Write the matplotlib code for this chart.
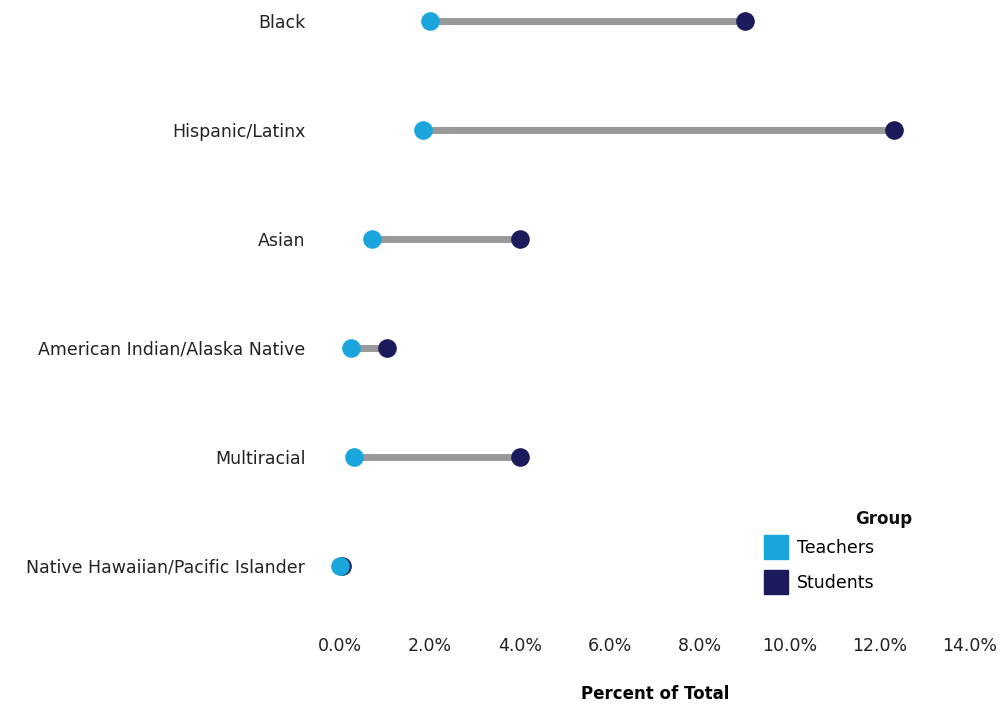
import matplotlib
matplotlib.use('Agg')
import matplotlib.pyplot as plt
from matplotlib.lines import Line2D
from matplotlib.ticker import FuncFormatter

plt.rcParams['font.family'] = ['DejaVu Sans']

# data (percent of total)
groups = ['Black', 'Hispanic/Latinx', 'Asian', 'American Indian/Alaska Native',
          'Multiracial', 'Native Hawaiian/Pacific Islander']
teachers = [2.0, 1.85, 0.7, 0.25, 0.3, 0.0]
students = [9.0, 12.3, 4.0, 1.05, 4.0, 0.05]
xticks = [0, 2, 4, 6, 8, 10, 12, 14]

teal = '#1aa5dc'
navy = '#1b1a5a'
grey = '#999999'

fig = plt.figure(figsize=(10.01, 7.05), dpi=100)
ax = fig.add_axes([340 / 1001, 1 - 620 / 705, 630 / 1001, 620 / 705])

ypos = list(range(len(groups)))
ax.hlines(ypos, teachers, students, color=grey, linewidth=5, zorder=1)
ax.scatter(students, ypos, s=180, color=navy, zorder=2, linewidths=0)
ax.scatter(teachers, ypos, s=180, color=teal, zorder=3, linewidths=0)

ax.set_xlim(0, 14)
ax.set_ylim((620 - 21) / 109, -21 / 109)
ax.set_xticks(xticks)
ax.xaxis.set_major_formatter(FuncFormatter(lambda v, p: f'{v:.1f}%'))
ax.set_yticks(ypos)
ax.set_yticklabels(groups)
ax.tick_params(axis='both', length=0, labelsize=12.5, colors='#222222')
ax.tick_params(axis='x', pad=12)
ax.tick_params(axis='y', pad=25)
for s in ax.spines.values():
    s.set_visible(False)
for c in ax.collections:
    c.set_clip_on(False)

ax.set_xlabel('Percent of Total', fontsize=12, fontweight='bold', labelpad=22)

handles = [Line2D([], [], marker='s', linestyle='none', markersize=17, color=teal),
           Line2D([], [], marker='s', linestyle='none', markersize=17, color=navy)]
leg = ax.legend(handles, ['Teachers', 'Students'], frameon=False,
                loc='upper left', bbox_to_anchor=((752 - 340) / 630, (620 - 532) / 620),
                fontsize=12.5, handletextpad=0.2, labelspacing=1.0, borderaxespad=0)
fig.text(912 / 1001, 1 - 519 / 705, 'Group', ha='right', va='center',
         fontsize=12, fontweight='bold', color='#111111')

fig.savefig('out.png', dpi=100)
